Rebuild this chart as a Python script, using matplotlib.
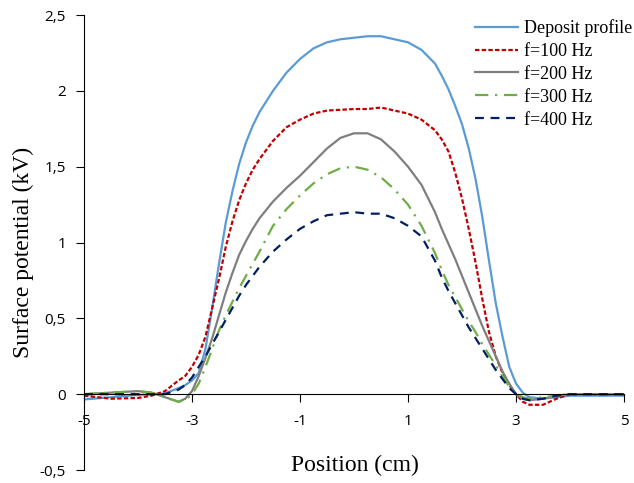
import matplotlib
matplotlib.use("Agg")
import matplotlib.pyplot as plt

# ------------ data --------------------------------------
position = [-5, -4.5, -4, -3.75, -3.5,
            -3.25, -3.125, -3, -2.875, -2.75, -2.625, -2.5, -2.375, -2.25, -2.125, -2, -1.875, -1.75,
            -1.5, -1.25, -1, -0.75, -0.5, -0.25, 0, 0.25, 0.5, 0.75, 1, 1.25,
            1.5, 1.625, 1.75, 1.875, 2, 2.125, 2.25, 2.375, 2.5, 2.625, 2.75, 2.875, 3, 3.125, 3.25,
            3.5, 3.75, 4, 4.5, 5]

deposit = [-0.035, -0.02, -0.005, 0.0, 0.005,
           0.04, 0.06, 0.09, 0.14, 0.3, 0.57, 0.86, 1.13, 1.34, 1.52, 1.66, 1.77, 1.86,
           2.0, 2.12, 2.21, 2.28, 2.32, 2.34, 2.35, 2.36, 2.36, 2.34, 2.32, 2.27,
           2.18, 2.1, 2.01, 1.9, 1.78, 1.62, 1.42, 1.17, 0.88, 0.6, 0.38, 0.18, 0.07, 0.01, -0.02,
           -0.03, -0.02, -0.01, -0.01, -0.01]

f100 = [-0.01, -0.03, -0.025, -0.01, 0.02,
        0.09, 0.12, 0.18, 0.26, 0.38, 0.57, 0.76, 0.97, 1.14, 1.28, 1.39, 1.48, 1.55,
        1.67, 1.76, 1.81, 1.85, 1.87, 1.875, 1.88, 1.88, 1.89, 1.87, 1.85, 1.81,
        1.74, 1.68, 1.60, 1.46, 1.29, 1.09, 0.87, 0.63, 0.41, 0.25, 0.14, 0.06, 0.0, -0.05, -0.07,
        -0.07, -0.03, 0.0, 0.0, 0.0]

f200 = [0.0, 0.01, 0.02, 0.01, -0.02,
        -0.05, -0.03, 0.02, 0.12, 0.24, 0.37, 0.52, 0.67, 0.8, 0.92, 1.01, 1.09, 1.16,
        1.27, 1.36, 1.44, 1.53, 1.62, 1.69, 1.72, 1.72, 1.68, 1.60, 1.50, 1.38,
        1.2, 1.09, 0.99, 0.89, 0.78, 0.67, 0.56, 0.45, 0.35, 0.25, 0.15, 0.07, 0.0, -0.03, -0.04,
        -0.03, -0.01, 0.0, 0.0, 0.0]

f300 = [0.0, 0.01, 0.02, 0.01, -0.02,
        -0.05, -0.04, 0.0, 0.07, 0.18, 0.3, 0.42, 0.52, 0.61, 0.7, 0.78, 0.86, 0.94,
        1.11, 1.22, 1.31, 1.39, 1.45, 1.49, 1.50, 1.48, 1.43, 1.35, 1.25, 1.11,
        0.93, 0.82, 0.72, 0.64, 0.56, 0.48, 0.41, 0.33, 0.26, 0.19, 0.12, 0.05, 0.0, -0.02, -0.03,
        -0.02, -0.01, 0.0, 0.0, 0.0]

f400 = [0.0, 0.0, 0.0, 0.0, 0.0,
        0.03, 0.06, 0.11, 0.18, 0.25, 0.33, 0.41, 0.49, 0.57, 0.65, 0.72, 0.78, 0.84,
        0.94, 1.02, 1.09, 1.14, 1.18, 1.19, 1.20, 1.19, 1.19, 1.16, 1.11, 1.04,
        0.88, 0.77, 0.68, 0.6, 0.52, 0.44, 0.37, 0.3, 0.23, 0.16, 0.1, 0.04, 0.0, -0.03, -0.04,
        -0.03, -0.01, 0.0, 0.0, 0.0]

labels = ["Deposit profile", "f=100 Hz", "f=200 Hz", "f=300 Hz", "f=400 Hz"]
xticks = [-5, -3, -1, 1, 3, 5]
yticks = [-0.5, 0, 0.5, 1, 1.5, 2, 2.5]
yticklabels = ["-0,5", "0", "0,5", "1", "1,5", "2", "2,5"]

# ----------- styles ------------
serif = "Liberation Serif"
sans = "Open Sans"
lw = 1.6

fig = plt.figure(figsize=(6.34, 4.83), dpi=100)
ax = fig.add_axes([84 / 634, 1 - 470 / 483, 540 / 634, 455 / 483])

ax.plot(position, deposit, color="#5B9BD5", lw=lw, label=labels[0])
ax.plot(position, f100, color="#C00000", lw=lw, ls=(0, (2, 1)), label=labels[1])
ax.plot(position, f200, color="#7F7F7F", lw=lw, label=labels[2])
ax.plot(position, f300, color="#70AD47", lw=lw, ls=(0, (6, 3, 1, 3)), label=labels[3])
ax.plot(position, f400, color="#002060", lw=lw, ls=(0, (4, 3)), label=labels[4])
for line in ax.get_lines():
    line.set_solid_joinstyle("round")
    line.set_dash_joinstyle("round")

ax.set_xlim(-5, 5)
ax.set_ylim(-0.5, 2.5)
ax.spines["top"].set_visible(False)
ax.spines["right"].set_visible(False)
ax.spines["bottom"].set_position(("data", 0))

ax.set_xticks(xticks)
ax.set_xticklabels([str(t) for t in xticks], fontfamily=sans, fontsize=11)
ax.set_yticks(yticks)
ax.set_yticklabels(yticklabels, fontfamily=sans, fontsize=11)
ax.tick_params(axis="x", direction="out", length=6, pad=8)
ax.tick_params(axis="y", direction="out", length=6, pad=7)

fig.text(355 / 634, 1 - 465 / 483, "Position (cm)", fontfamily=serif,
         fontsize=17, ha="center", va="center")
fig.text(23 / 634, 1 - 252 / 483, "Surface potential (kV)", fontfamily=serif,
         fontsize=17, ha="center", va="center", rotation=90)

ax.legend(loc="upper left", bbox_to_anchor=(475 / 634, 1 - 19 / 483),
          bbox_transform=fig.transFigure, frameon=False,
          prop={"family": serif, "size": 13}, handlelength=2.4,
          handletextpad=0.3, labelspacing=0.33, borderpad=0, borderaxespad=0)

fig.savefig("out.png", dpi=100)
